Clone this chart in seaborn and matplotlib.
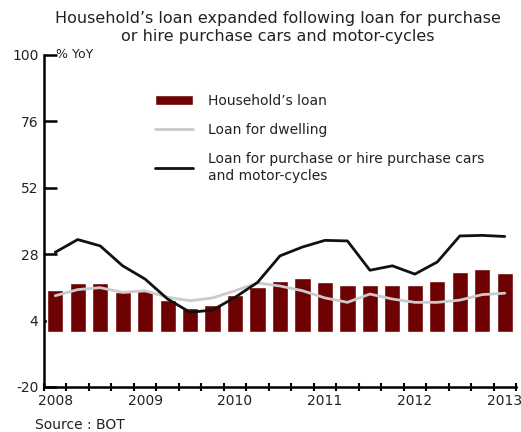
import numpy as np
import pandas as pd
import matplotlib
matplotlib.use("Agg")
import matplotlib.pyplot as plt
import seaborn as sns

# Quarterly growth, % YoY, 2008Q1 - 2013Q1
quarters = [f"{y}Q{q}" for y in range(2008, 2013) for q in range(1, 5)] + ["2013Q1"]
household = [15.0, 17.5, 17.5, 14.5, 14.8, 11.3, 8.7, 9.6, 13.3, 16.2, 18.4,
             19.3, 17.8, 17.0, 17.0, 16.8, 16.8, 18.2, 21.5, 22.6, 21.1]
dwelling = [13.0, 15.2, 15.9, 14.2, 14.8, 12.4, 11.2, 12.2, 14.8, 17.6, 16.5,
            14.8, 12.2, 10.6, 13.6, 11.8, 10.6, 10.6, 11.4, 13.4, 13.9]
cars = [28.7, 33.3, 31.0, 23.8, 19.0, 11.8, 7.0, 7.8, 12.4, 17.8, 27.4,
        30.6, 33.0, 32.8, 22.2, 23.8, 20.8, 25.2, 34.6, 34.8, 34.4]
year_labels = ["2008", "2009", "2010", "2011", "2012", "2013"]
y_ticks = [100, 76, 52, 28, 4, -20]

labels = ["Household’s loan", "Loan for dwelling",
          "Loan for purchase or hire purchase cars\nand motor-cycles"]

df = pd.DataFrame({"quarter": quarters, "pos": np.arange(len(quarters)),
                   "household": household, "dwelling": dwelling, "cars": cars})

sns.set_theme(style="white")
plt.rcParams["font.family"] = ["DejaVu Sans"]

W, H = 521, 432
fig = plt.figure(figsize=(W / 100, H / 100), dpi=100)
ax = fig.add_axes([44 / W, 1 - 387 / H, 472 / W, 332 / H])

sns.barplot(data=df, x="quarter", y="household", order=quarters, color="#6e0202",
            saturation=1, width=0.72, ax=ax, label=labels[0])
sns.lineplot(data=df, x="pos", y="dwelling", color="#cbcbcb", lw=2.0, ax=ax,
             label=labels[1])
sns.lineplot(data=df, x="pos", y="cars", color="#111111", lw=2.0, ax=ax,
             label=labels[2])

n = len(quarters)
ax.set_xlim(-0.5, n - 0.5)
ax.set_ylim(-20, 100)
ax.set_xlabel("")
ax.set_ylabel("")

# quarter separators on the x axis, year names under each Q1 bar
ax.set_xticks(np.arange(-0.5, n, 1.0))
ax.set_xticklabels([])
ax.set_xticks(np.arange(0, n, 4), minor=True)
ax.set_xticklabels(year_labels, minor=True)
ax.tick_params(axis="x", which="major", direction="inout", length=6, width=1.5,
               color="black", bottom=True)
ax.tick_params(axis="x", which="minor", length=0, pad=5, labelsize=10,
               labelcolor="#222222", bottom=True)

ax.set_yticks(y_ticks)
ax.set_yticklabels([str(v) for v in y_ticks])
ax.tick_params(axis="y", direction="in", length=9, width=1.8, color="black",
               labelsize=10, labelcolor="#222222", pad=4, left=True)

for s in ["top", "right"]:
    ax.spines[s].set_visible(False)
for s in ["left", "bottom"]:
    ax.spines[s].set_color("black")
    ax.spines[s].set_linewidth(1.8)

ax.text(0.025, 1.0, "% YoY", transform=ax.transAxes, ha="left", va="center",
        fontsize=9, color="#222222")

handles, hl = ax.get_legend_handles_labels()
order = [hl.index(lab) for lab in labels]
leg = ax.legend([handles[i] for i in order], [hl[i] for i in order],
                loc="upper left", bbox_to_anchor=(0.224, 0.9), frameon=False,
                fontsize=10, handlelength=2.7, handletextpad=1.1, labelspacing=1.1,
                handleheight=0.8, borderaxespad=0)
for t in leg.get_texts():
    t.set_color("#222222")

fig.text(278 / W, 1 - 27 / H,
         "Household’s loan expanded following loan for purchase\n"
         "or hire purchase cars and motor-cycles",
         ha="center", va="center", fontsize=11.5, color="#222222", linespacing=1.25)
fig.text(35 / W, 1 - 425 / H, "Source : BOT", ha="left", va="center",
         fontsize=10, color="#222222")

fig.savefig("out.png", dpi=100, facecolor="white")
